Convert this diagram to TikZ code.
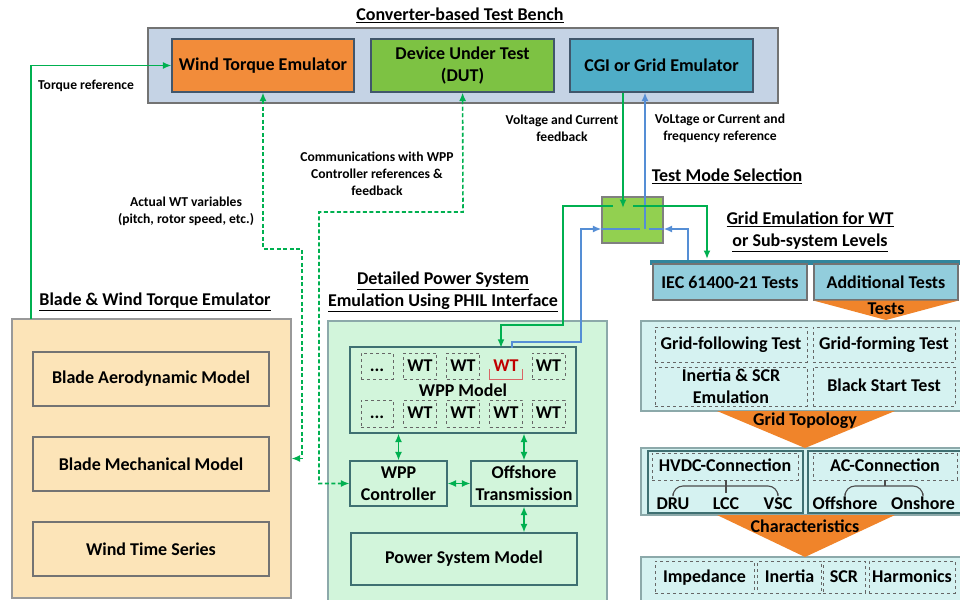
\documentclass[tikz,border=0pt]{standalone}
\usepackage{fontspec}
\setmainfont{Carlito}
\usetikzlibrary{calc,arrows.meta}
\definecolor{grn}{HTML}{00B050}
\definecolor{blu}{HTML}{558ED5}
\definecolor{benchc}{HTML}{C5D3E5}
\definecolor{wtec}{HTML}{F28C3A}
\definecolor{dutc}{HTML}{7DC243}
\definecolor{cgic}{HTML}{4FADC7}
\definecolor{bladec}{HTML}{FCE4B8}
\definecolor{philc}{HTML}{D2F5DB}
\definecolor{swc}{HTML}{92D050}
\definecolor{barc}{HTML}{31859C}
\definecolor{iecc}{HTML}{92CDDC}
\definecolor{orc}{HTML}{F0842A}
\definecolor{tstc}{HTML}{D5F2F1}
\definecolor{bdr}{HTML}{41566B}
\definecolor{tealb}{HTML}{3F7072}
\definecolor{redt}{HTML}{C00000}
\tikzset{
 lbl/.style={font=\fontsize{18}{22}\selectfont\bfseries,align=center},
 sml/.style={font=\fontsize{13.6}{17}\selectfont\bfseries,align=center},
 blk/.style={draw=bdr,line width=1.1pt,inner sep=1pt,lbl},
 dshm/.style={draw=black!60,dashed,line width=.8pt,inner sep=0pt,lbl},
 dsh/.style={dshm,text height=12pt,text depth=2pt},
 tip/.style={arrows={-Latex[length=8.5pt,width=7pt]}},
 tips/.style={arrows={Latex[length=8.5pt,width=7pt]-Latex[length=8.5pt,width=7pt]}},
 gl/.style={grn,line width=1.6pt},
 bl/.style={blu,line width=1.6pt},
 dl/.style={grn,line width=1.6pt,dash pattern=on 4pt off 2.5pt}
}
\begin{document}
\begin{tikzpicture}[x=1pt,y=-1pt]
\useasboundingbox(0,0)rectangle(960,599);
% converter-based test bench
\node[lbl](tb)at(460,15){\underline{Converter-based Test Bench}};
\node[blk,draw=black!55,fill=benchc,minimum width=630,minimum height=75](bench)at(463,65.5){};
\node[blk,fill=wtec,minimum width=182,minimum height=53](wte)at(263,65.5){Wind Torque Emulator};
\node[blk,fill=dutc,minimum width=183,minimum height=53](dut)at(462.5,65.5){Device Under Test\\(DUT)};
\node[blk,fill=cgic,minimum width=183,minimum height=53](cgi)at(661.5,65.5){CGI or Grid Emulator};
% blade & wind torque emulator
\node[lbl](tbl)at(155,302){\underline{Blade \& Wind Torque Emulator}};
\node[blk,draw=black!40,fill=bladec,minimum width=279,minimum height=279](blade)at(151.5,458.5){};
\node[blk,draw=black!55,minimum width=236,minimum height=54](bam)at(151,379){Blade Aerodynamic Model};
\node[blk,draw=black!55,minimum width=236,minimum height=54](bmm)at(151,464){Blade Mechanical Model};
\node[blk,draw=black!55,minimum width=236,minimum height=54](wts)at(151,549){Wind Time Series};
% detailed power system emulation
\node[lbl](tph)at(443,292){\underline{Detailed Power System}\\\underline{Emulation Using PHIL Interface}};
\node[blk,draw=tealb!60,fill=philc,minimum width=279,minimum height=282](phil)at(467.5,462){};
\node[blk,draw=tealb,minimum width=226,minimum height=86](wppm)at(463,390){};
\node[lbl](wppl)at(463,390){WPP Model};
\node[dsh,minimum width=32,minimum height=26](wt1)at(377,366){...};
\node[dsh,minimum width=33,minimum height=26](wt2)at(420,366){WT};
\node[dsh,minimum width=33,minimum height=26](wt3)at(463,366){WT};
\node[lbl,text=redt,inner sep=0pt,text height=12pt,text depth=2pt,minimum width=32,minimum height=26](wt4)at(506,366){WT};
\node[dsh,minimum width=33,minimum height=26](wt5)at(548.5,366){WT};
\node[dsh,minimum width=32,minimum height=27](wb1)at(377,413.5){...};
\node[dsh,minimum width=33,minimum height=27](wb2)at(420,413.5){WT};
\node[dsh,minimum width=33,minimum height=27](wb3)at(463,413.5){WT};
\node[dsh,minimum width=33,minimum height=27](wb4)at(506,413.5){WT};
\node[dsh,minimum width=33,minimum height=27](wb5)at(548.5,413.5){WT};
\draw[redt!60,line width=.9pt]($(wt4.south west)+(0,-10)$)--(wt4.south west)--(wt4.south east)--++(0,-10);
\node[blk,draw=tealb,minimum width=97,minimum height=45](wppc)at(398.5,483.5){WPP\\Controller};
\node[blk,draw=tealb,minimum width=106,minimum height=45](ofs)at(524,483.5){Offshore\\Transmission};
\node[blk,draw=tealb,minimum width=226,minimum height=52](psm)at(464,559){Power System Model};
\draw[gl,tips](wppm.south-|wppc)--(wppc);
\draw[gl,tips](wppm.south-|ofs)--(ofs);
\draw[gl,tips](wppc)--(ofs);
\draw[gl,tips](ofs)--(ofs|-psm.north);
% test mode selection
\node[lbl](ttm)at(727,176){\underline{Test Mode Selection}};
\node[blk,draw=black!50,fill=swc,minimum width=61,minimum height=46](sw)at(632.5,220){};
\node[lbl](tge)at(810,232){\underline{Grid Emulation for WT}\\\underline{or Sub-system Levels}};
\draw[barc,line width=5pt](650,262)--(965,262);
\node[blk,draw=black!55,fill=iecc,minimum width=154,minimum height=36](iec)at(730,282){IEC 61400-21 Tests};
\node[blk,draw=black!55,fill=iecc,minimum width=144,minimum height=36](add)at(886,282){Additional Tests};
% test levels
\node[blk,draw=tealb!60,fill=tstc,minimum width=324,minimum height=90](tst)at(803,366){};
\node[dsh,minimum width=152,minimum height=35](gfl)at(731,344.5){Grid-following Test};
\node[dsh,minimum width=142,minimum height=35](gfm)at(884,344.5){Grid-forming Test};
\node[dshm,minimum width=152,minimum height=39](isc)at(731,386.5){Inertia \& SCR\\Emulation};
\node[dsh,minimum width=142,minimum height=39](bst)at(884,386.5){Black Start Test};
\node[blk,draw=tealb!60,fill=tstc,minimum width=324,minimum height=67](topo)at(803,481.5){};
\node[blk,draw=tealb,minimum width=155,minimum height=62](hv)at(725.5,482){};
\node[blk,draw=tealb,minimum width=154,minimum height=62](ac)at(885,482){};
\node[dsh,minimum width=146,minimum height=27](hvdc)at(725,466.5){HVDC-Connection};
\node[dsh,minimum width=144,minimum height=27](acc)at(885,466.5){AC-Connection};
\node[lbl,text height=12pt,text depth=2pt](dru)at(673,504){DRU};
\node[lbl,text height=12pt,text depth=2pt](lcc)at(726,504){LCC};
\node[lbl,text height=12pt,text depth=2pt](vsc)at(778,504){VSC};
\node[lbl,text height=12pt,text depth=2pt](offs)at(845,504){Offshore};
\node[lbl,text height=12pt,text depth=2pt](onsh)at(923,504){Onshore};
\draw[black!70,line width=1.1pt](hvdc.south-|lcc)--(lcc.north);
\draw[black!70,line width=1.1pt,rounded corners=10](dru.north)|-(726,486)-|(vsc.north);
\draw[black!70,line width=1.1pt](acc.south)--(885,486);
\draw[black!70,line width=1.1pt,rounded corners=10](offs.north)|-(885,486)-|(onsh.north);
\node[blk,draw=tealb!60,fill=tstc,minimum width=324,minimum height=48](chr)at(803,581){};
\node[dsh,minimum width=99,minimum height=32](imp)at(704.5,577){Impedance};
\node[dsh,minimum width=64,minimum height=32](ine)at(789.5,577){Inertia};
\node[dsh,minimum width=42,minimum height=32](scr)at(844,577){SCR};
\node[dsh,minimum width=86,minimum height=32](har)at(912,577){Harmonics};
\fill[orc](add.south west)--(add.south east)--(886,320)--cycle;
\node[lbl](tsl)at(886,309){Tests};
\fill[orc](717,411)--(895,411)--(805,448)--cycle;
\node[lbl](gtl)at(805,421){Grid Topology};
\fill[orc](717,515)--(895,515)--(805,557)--cycle;
\node[lbl](chl)at(805,526){Characteristics};
% connectors
\coordinate(tq)at(31,319);
\draw[gl,tip](tq)|-(wte);
\node[sml](tql)at(86,86){Torque reference};
\draw[dl,tips](wte)--(263,249)--(302,249)|-(blade);
\node[sml](awl)at(186,211){Actual WT variables\\(pitch, rotor speed, etc.)};
\draw[dl,tips](dut)--(463,212)--(319,212)|-(wppc);
\node[sml](cml)at(377,174){Communications with WPP\\Controller references \&\\feedback};
\draw[gl,tip]($(cgi.south)+(-38.5,0)$)--(623,208);
\draw[bl,tip](645,229)--($(cgi.south)+(-16.5,0)$);
\node[sml](vcl)at(562,128.5){Voltage and Current\\feedback};
\node[sml](vrl)at(720,128.5){VoLtage or Current and\\frequency reference};
\draw[gl,tip](613,206)--(563,206)--(563,325)--(501,325)--($(wt4.north)+(-5,-5)$);
\draw[bl,tip]($(wt4.north)+(6,-5)$)|-(581,342)|-($(sw.west)+(0,9)$);
\draw[bl]($(sw.west)+(0,9)$)--(640,229);
\draw[bl,tip](688,259.5)|-($(sw.east)+(0,9)$);
\draw[bl](649,229)--($(sw.east)+(0,9)$);
\draw[gl,tip](633,206)-|(707,259);
\end{tikzpicture}
\end{document}
